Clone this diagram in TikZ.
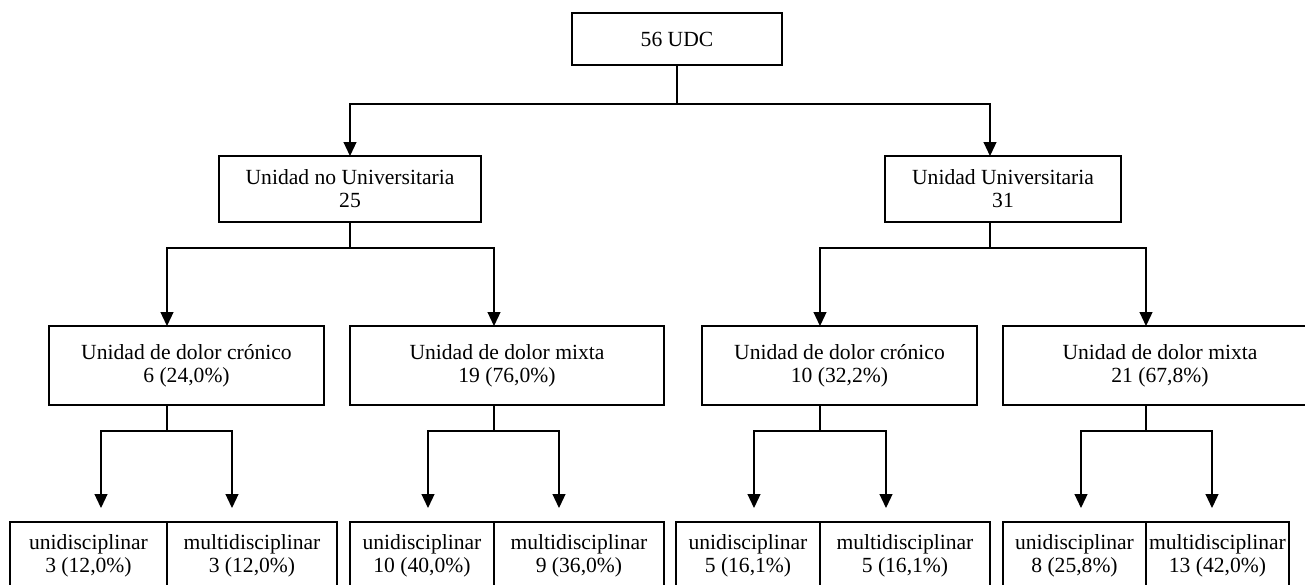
\documentclass[tikz,border=0pt]{standalone}
\usepackage{fontspec}
\setmainfont{Liberation Serif}
\usetikzlibrary{arrows.meta}

\begin{document}
\begin{tikzpicture}[x=0.5pt,y=-0.5pt,line width=0.6pt,
  box/.style={draw,anchor=north west,align=center,inner sep=1pt,outer sep=0pt,
    font=\fontsize{10.8}{11.5}\selectfont},
  tip/.style={-{Triangle[width=6.5pt,length=7pt]}}]

% Page size (pixels, y going down)
\useasboundingbox (0,0) rectangle (1305,584);
\clip (0,0) rectangle (1305,584);

%Define box heights
\def\hA{26pt}        %Top box.
\def\hB{33pt}        %Second row.
\def\hC{39.5pt}      %Third row.
\def\hD{34pt}        %Bottom row.

% Boxes
\node[box,minimum width=105pt,minimum height=\hA] (udc) at (572,13) {56 UDC};

\node[box,minimum width=131pt,minimum height=\hB] (nu) at (219,156) {Unidad no Universitaria\\25};
\node[box,minimum width=118pt,minimum height=\hB] (u) at (885,156) {Unidad Universitaria\\31};

\node[box,minimum width=137.5pt,minimum height=\hC] (cnu) at (49,326) {Unidad de dolor crónico\\6 (24,0\%)};
\node[box,minimum width=157pt,minimum height=\hC] (mnu) at (350,326) {Unidad de dolor mixta\\19 (76,0\%)};
\node[box,minimum width=137.5pt,minimum height=\hC] (cu) at (702,326) {Unidad de dolor crónico\\10 (32,2\%)};
\node[box,minimum width=157pt,minimum height=\hC] (mu) at (1003,326) {Unidad de dolor mixta\\21 (67,8\%)};

\node[box,minimum width=78.5pt,minimum height=\hD] (ua) at (10,522) {unidisciplinar\\3 (12,0\%)};
\node[box,minimum width=85pt,minimum height=\hD] (ma) at (167,522) {multidisciplinar\\3 (12,0\%)};
\node[box,minimum width=72pt,minimum height=\hD] (ub) at (350,522) {unidisciplinar\\10 (40,0\%)};
\node[box,minimum width=85pt,minimum height=\hD] (mb) at (494,522) {multidisciplinar\\9 (36,0\%)};
\node[box,minimum width=72pt,minimum height=\hD] (uc) at (676,522) {unidisciplinar\\5 (16,1\%)};
\node[box,minimum width=85pt,minimum height=\hD] (mc) at (820,522) {multidisciplinar\\5 (16,1\%)};
\node[box,minimum width=71.5pt,minimum height=\hD] (ud) at (1003,522) {unidisciplinar\\8 (25,8\%)};
\node[box,minimum width=71.5pt,minimum height=\hD] (md) at (1146,522) {multidisciplinar\\13 (42,0\%)};

% Define coordinates
\coordinate (j0) at (677,104);
\coordinate (jn) at (350,248);
\coordinate (ju) at (990,248);
\coordinate (jcn) at (167,431);
\coordinate (jmn) at (494,431);
\coordinate (jcu) at (820,431);
\coordinate (jmu) at (1146,431);
\coordinate (t1) at (101,508);
\coordinate (t2) at (232,508);
\coordinate (t3) at (428,508);
\coordinate (t4) at (559,508);
\coordinate (t5) at (754,508);
\coordinate (t6) at (886,508);
\coordinate (t7) at (1081,508);
\coordinate (t8) at (1212,508);

% First split
\draw (udc.south) -- (j0);
\draw[tip] (j0) -| (nu.north);
\draw[tip] (j0) -| (u.north -| ju);

% Second split
\draw (nu.south) -- (jn);
\draw[tip] (jn) -| (cnu.north -| jcn);
\draw[tip] (jn) -| (mnu.north -| jmn);
\draw (u.south -| ju) -- (ju);
\draw[tip] (ju) -| (cu.north -| jcu);
\draw[tip] (ju) -| (mu.north -| jmu);

% Third split
\draw (cnu.south -| jcn) -- (jcn);
\draw[tip] (jcn) -| (t1);
\draw[tip] (jcn) -| (t2);
\draw (mnu.south -| jmn) -- (jmn);
\draw[tip] (jmn) -| (t3);
\draw[tip] (jmn) -| (t4);
\draw (cu.south -| jcu) -- (jcu);
\draw[tip] (jcu) -| (t5);
\draw[tip] (jcu) -| (t6);
\draw (mu.south -| jmu) -- (jmu);
\draw[tip] (jmu) -| (t7);
\draw[tip] (jmu) -| (t8);

\end{tikzpicture}
\end{document}
